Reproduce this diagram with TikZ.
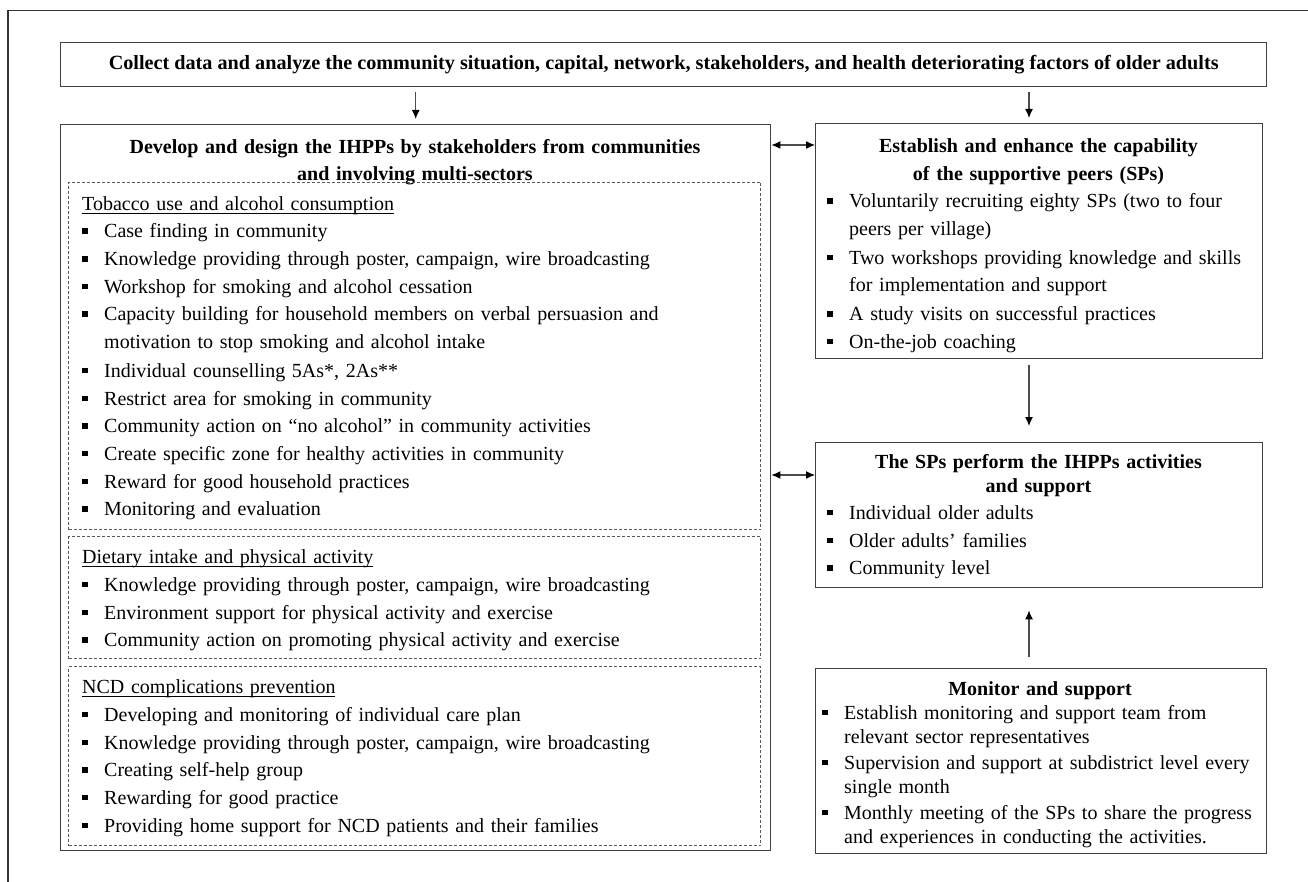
\documentclass[tikz,border=0pt]{standalone}
\usepackage{fontspec}
\setmainfont{Liberation Serif}
\usetikzlibrary{arrows.meta,positioning,calc}

\newcommand{\itm}[1]{\par\noindent\makebox[22pt][l]{\rule[4pt]{5.5pt}{5.5pt}}\parbox[t]{\dimexpr\hsize-22pt\relax}{\raggedright\strut#1\strut}}
\newcommand{\uhead}[1]{\setbox0\hbox{#1}\rlap{\rule[-3.5pt]{\wd0}{0.9pt}}\box0}

\begin{document}
\begin{tikzpicture}[x=1pt, y=-1pt, >={Latex[length=9pt,width=8pt,color=black]},
  box/.style={draw=black!75, line width=1.4pt, inner sep=0pt, anchor=north west},
  dotbox/.style={draw=black!65, line width=1pt, dash pattern=on 3pt off 2pt, inner sep=0pt, anchor=north west},
  lst/.style={inner sep=0pt, anchor=north west, align=left, font=\fontsize{20}{27.7}\selectfont},
  head/.style={inner sep=0pt, anchor=north, align=center, font=\fontsize{20}{27}\selectfont\bfseries},
  link/.style={draw=black!70, line width=1.2pt}]
\useasboundingbox (0,0) rectangle (1308,882);
\draw[black!80, line width=1.4pt] (8,882) -- (8,10.5) -- (1308,10.5);

% top
\node[box, minimum width=1206pt, minimum height=44pt, font=\fontsize{20.2}{24}\selectfont\bfseries] (collect) at (60,42) {Collect data and analyze the community situation, capital, network, stakeholders, and health deteriorating factors of older adults};

% left column
\node[box, minimum width=710pt, minimum height=726pt] (dev) at (60,124) {};
\node[head, text width=680pt] (devt) at (415,134.6) {\strut Develop and design the IHPPs by stakeholders from communities\\ and involving multi-sectors};

\node[dotbox, minimum width=692pt, minimum height=347pt] (tob) at (68,182) {};
\node[lst, text width=670pt] (tobl) at (82,190.6) {\noindent\strut\uhead{Tobacco use and alcohol consumption}
  \itm{Case finding in community}
  \itm{Knowledge providing through poster, campaign, wire broadcasting}
  \itm{Workshop for smoking and alcohol cessation}
  \itm{Capacity building for household members on verbal persuasion and\newline motivation to stop smoking and alcohol intake}
  \itm{Individual counselling 5As*, 2As**}
  \itm{Restrict area for smoking in community}
  \itm{Community action on “no alcohol” in community activities}
  \itm{Create specific zone for healthy activities in community}
  \itm{Reward for good household practices}
  \itm{Monitoring and evaluation}};

\node[dotbox, minimum width=692pt, minimum height=122pt] (diet) at (68,536) {};
\node[lst, text width=670pt] (dietl) at (82,544.1) {\noindent\strut\uhead{Dietary intake and physical activity}
  \itm{Knowledge providing through poster, campaign, wire broadcasting}
  \itm{Environment support for physical activity and exercise}
  \itm{Community action on promoting physical activity and exercise}};

\node[dotbox, minimum width=692pt, minimum height=179pt] (ncd) at (68,666) {};
\node[lst, text width=670pt] (ncdl) at (82,674.1) {\noindent\strut\uhead{NCD complications prevention}
  \itm{Developing and monitoring of individual care plan}
  \itm{Knowledge providing through poster, campaign, wire broadcasting}
  \itm{Creating self-help group}
  \itm{Rewarding for good practice}
  \itm{Providing home support for NCD patients and their families}};

% right column
\node[box, minimum width=447pt, minimum height=235pt] (cap) at (815,123) {};
\node[head, text width=430pt, font=\fontsize{20}{28}\selectfont\bfseries] (capt) at (1038.5,132.9) {\strut Establish and enhance the capability\\ of the supportive peers (SPs)};
\node[lst, text width=430pt] (capl) at (827,180) {\itm{Voluntarily recruiting eighty SPs (two to four\newline peers per village)}
  \itm{Two workshops providing knowledge and skills\newline for implementation and support}
  \itm{A study visits on successful practices}
  \itm{On-the-job coaching}};

\node[box, minimum width=447pt, minimum height=145pt] (sp) at (815,442) {};
\node[head, text width=430pt, font=\fontsize{20}{24}\selectfont\bfseries] (spt) at (1038.5,451.5) {\strut The SPs perform the IHPPs activities\\ and support};
\node[lst, text width=430pt] (spl) at (827,491.5) {\itm{Individual older adults}
  \itm{Older adults’ families}
  \itm{Community level}};

\node[box, minimum width=451pt, minimum height=185pt] (mon) at (815,668) {};
\node[head, text width=430pt] (mont) at (1040,676.6) {\strut Monitor and support};
\node[lst, text width=435pt, font=\fontsize{20}{24.5}\selectfont] (monl) at (822,694.5) {\itm{Establish monitoring and support team from\newline relevant sector representatives}
  \itm{Supervision and support at subdistrict level every\newline single month}
  \itm{Monthly meeting of the SPs to share the progress\newline and experiences in conducting the activities.}};

% connectors
\coordinate (rc) at (1029,0);
\draw[link,->,shorten <=5pt,shorten >=5pt] (collect.south -| dev.north) -- (dev.north);
\draw[link,->,shorten <=5pt,shorten >=5pt] (collect.south -| rc) -- (cap.north -| rc);
\draw[link,<->] ([yshift=-22pt]cap.north west) -- ([yshift=-22pt]cap.north west -| dev.east);
\draw[link,<->] ([yshift=-33pt]sp.north west) -- ([yshift=-33pt]sp.north west -| dev.east);
\draw[link,->,shorten <=6pt,shorten >=16pt] (cap.south -| rc) -- (sp.north -| rc);
\draw[link,->,shorten <=11pt,shorten >=22pt] (mon.north -| rc) -- (sp.south -| rc);
\end{tikzpicture}
\end{document}
